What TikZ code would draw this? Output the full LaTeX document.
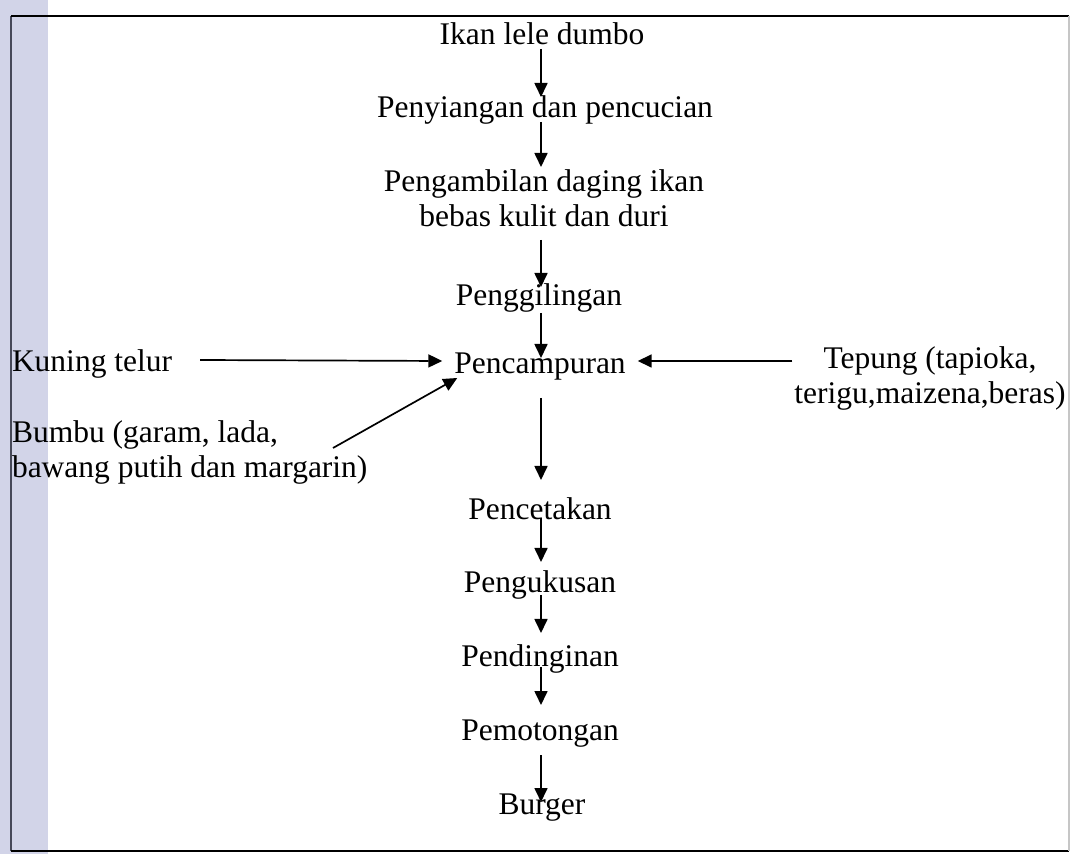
\documentclass[tikz,border=0pt]{standalone}
\usepackage{fontspec}
\setmainfont{Liberation Serif}
\newfontfamily\tnr{Liberation Serif}
\usetikzlibrary{arrows.meta,calc}
\definecolor{stripcol}{RGB}{210,212,232}
\definecolor{leftframe}{RGB}{70,72,88}
\begin{document}
\begin{tikzpicture}[x=0.5pt,y=-0.5pt,
  lbl/.style={font=\tnr\fontsize{15.75}{17.5}\selectfont, inner sep=0pt, outer sep=0pt, anchor=base},
  arr/.style={line width=0.85pt, -{Triangle[length=7pt,width=6.5pt]}}]
\useasboundingbox (0,0) rectangle (1070,854);
% scanned side strip
\fill[stripcol] (0,0) rectangle (48,854);
% frame
\draw[leftframe, line width=0.9pt] (11,851) -- (11,16);
\draw[line width=1pt] (11,16) -- (1069,16);
\draw[line width=1pt] (11,851) -- (1069,851);
\draw[gray!45, line width=0.8pt] (1069,16) -- (1069,851);

\coordinate (colx) at (541,0);

% main column (base anchor of a two-line node = baseline of its last line)
\node[lbl] (ikan) at (542,45) {Ikan lele dumbo};
\node[lbl] (peny) at (545,118) {Penyiangan dan pencucian};
\node[lbl, align=center] (ambil) at (544,227) {Pengambilan daging ikan\\bebas kulit dan duri};
\node[lbl] (giling) at (539,306) {Penggilingan};
\node[lbl] (campur) at (540,374) {Pencampuran};
\node[lbl] (cetak) at (540,520) {Pencetakan};
\node[lbl] (kukus) at (540,593) {Pengukusan};
\node[lbl] (dingin) at (540,667) {Pendinginan};
\node[lbl] (potong) at (540,740) {Pemotongan};
\node[lbl] (burger) at (542,814) {Burger};

% side inputs
\node[lbl, anchor=base west] (kuning) at (12,372) {Kuning telur};
\node[lbl, anchor=base west, align=left] (bumbu) at (12,478) {Bumbu (garam, lada,\\bawang putih dan margarin)};
\node[lbl, align=center] (tepung) at (930,404) {Tepung (tapioka,\\terigu,maizena,beras)};

% vertical flow
\draw[arr] ($(ikan.base -| colx)+(0,4)$) -- ($(peny.base -| colx)+(0,-21)$);
\draw[arr] ($(peny.base -| colx)+(0,4)$) -- ($(ambil.base -| colx)+(0,-60)$);
\draw[arr] ($(ambil.base -| colx)+(0,13)$) -- ($(giling.base -| colx)+(0,-19)$);
\draw[arr] ($(giling.base -| colx)+(0,7)$) -- ($(campur.base -| colx)+(0,-16)$);
\draw[arr] ($(campur.base -| colx)+(0,24)$) -- ($(cetak.base -| colx)+(0,-40)$);
\draw[arr] ($(cetak.base -| colx)+(0,-2)$) -- ($(kukus.base -| colx)+(0,-31)$);
\draw[arr] ($(kukus.base -| colx)+(0,2)$) -- ($(dingin.base -| colx)+(0,-34)$);
\draw[arr] ($(dingin.base -| colx)+(0,0)$) -- ($(potong.base -| colx)+(0,-35)$);
\draw[arr] ($(potong.base -| colx)+(0,15)$) -- ($(burger.base -| colx)+(0,-12)$);

% inputs into mixing
\draw[arr] ($(kuning.base east)+(28,-12)$) -- ($(campur.base west)+(-12,-13)$);
\draw[arr] ($(tepung.base west)+(-2,-43)$) -- ($(campur.base east)+(12,-13)$);
\draw[arr] ($(bumbu.base west)+(321,-30)$) -- ($(campur.base west)+(3,4)$);
\end{tikzpicture}
\end{document}
